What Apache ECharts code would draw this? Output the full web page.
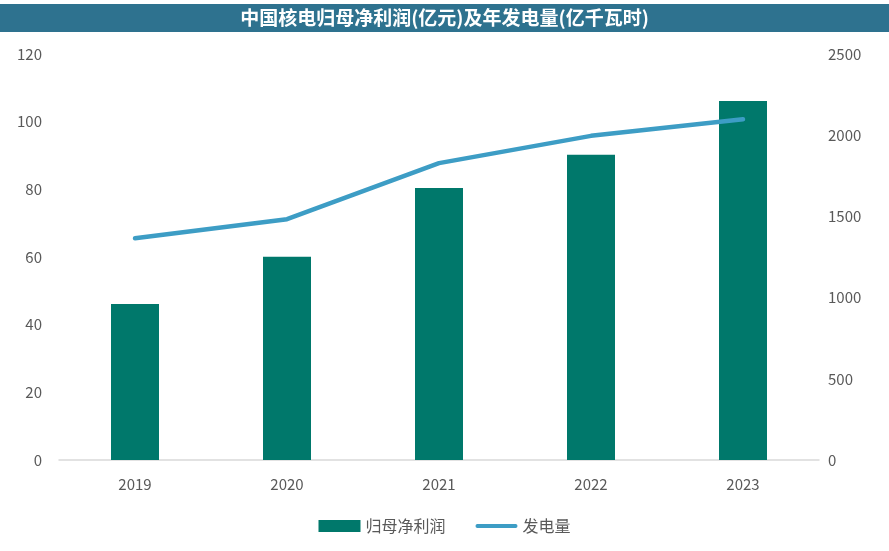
<!DOCTYPE html>
<html><head><meta charset="utf-8">
<script src="https://cdn.jsdelivr.net/npm/echarts@6/dist/echarts.min.js"></script>
<style>html,body{margin:0;padding:0;background:#fff}#c{width:889px;height:551px}</style>
</head><body><div id="c"></div>
<script>
const categories = ['2019','2020','2021','2022','2023'];
const profit = [46.1, 60.1, 80.4, 90.2, 106.1];
const generation = [1365, 1483, 1828, 1996, 2098];
const leftTicks = [0, 120, 20];
const rightTicks = [0, 2500, 500];

const chart = echarts.init(document.getElementById('c'));
const font = '"Noto Sans CJK SC", "Noto Sans", sans-serif';
chart.setOption({
  animation: false,
  textStyle: { fontFamily: font },
  graphic: [
    { type: 'rect', shape: { x: 0, y: 4, width: 889, height: 28 }, style: { fill: '#2E728F' }, silent: true },
    { type: 'text', x: 444.5, y: 18, style: { text: '中国核电归母净利润(亿元)及年发电量(亿千瓦时)', fill: '#fff', font: 'bold 19px ' + font, align: 'center', verticalAlign: 'middle' } }
  ],
  grid: { left: 59, right: 70, top: 54, bottom: 91 },
  legend: {
    bottom: 12, left: 'center', itemGap: 30, itemWidth: 42, itemHeight: 12,
    textStyle: { color: '#595959', fontSize: 16, fontFamily: font },
    data: [
      { name: '归母净利润', icon: 'rect' },
      { name: '发电量', icon: 'path://M2,0 H42 A2,2 0 0 1 42,4 H2 A2,2 0 0 1 2,0 Z' }
    ]
  },
  xAxis: {
    type: 'category', data: categories,
    axisLine: { lineStyle: { color: '#D9D9D9', width: 1.5 } },
    axisTick: { show: false },
    axisLabel: { color: '#595959', fontSize: 15, margin: 17 }
  },
  yAxis: [
    { type: 'value', min: leftTicks[0], max: leftTicks[1], interval: leftTicks[2],
      splitLine: { show: false }, axisLine: { show: false }, axisTick: { show: false },
      axisLabel: { color: '#595959', fontSize: 15, margin: 17 } },
    { type: 'value', min: rightTicks[0], max: rightTicks[1], interval: rightTicks[2], position: 'right',
      splitLine: { show: false }, axisLine: { show: false }, axisTick: { show: false },
      axisLabel: { color: '#595959', fontSize: 15, margin: 9, formatter: v => String(v) } }
  ],
  series: [
    { name: '归母净利润', type: 'bar', data: profit, barWidth: 48, itemStyle: { color: '#00786B' } },
    { name: '发电量', type: 'line', yAxisIndex: 1, data: generation, symbol: 'none',
      lineStyle: { color: '#3D9DC5', width: 4.5, cap: 'round', join: 'round' }, itemStyle: { color: '#3D9DC5' } }
  ]
});
</script></body></html>
